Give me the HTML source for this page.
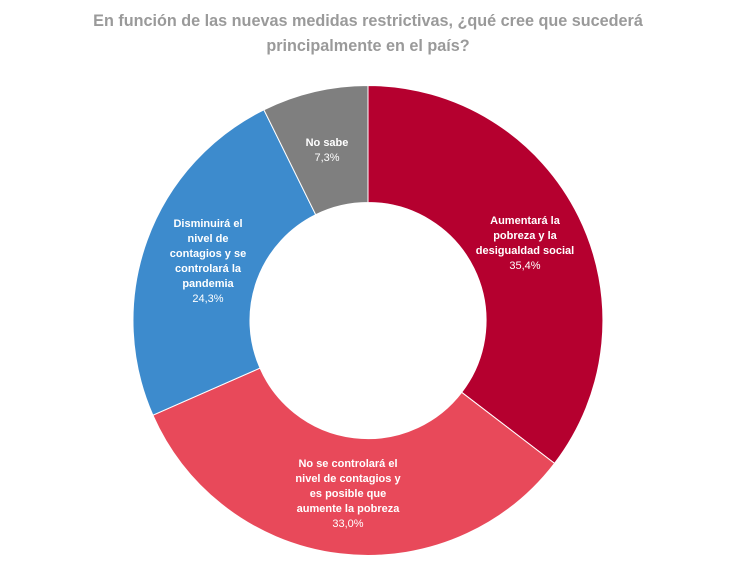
<!DOCTYPE html>
<html><head><meta charset="utf-8"><style>
body{margin:0;background:#fff;width:736px;height:562px;overflow:hidden}
svg{display:block}
text{font-family:"Liberation Sans",sans-serif}
.t{font-size:16.2px;font-weight:bold;fill:#9a9a9a}
.l{font-size:11px;font-weight:bold;fill:#fff}
.p{font-size:11px;fill:#fff}
</style></head><body>
<svg width="736" height="562" viewBox="0 0 736 562">
<text class="t" x="368" y="26" text-anchor="middle">En función de las nuevas medidas restrictivas, ¿qué cree que sucederá</text>
<text class="t" x="368" y="51" text-anchor="middle">principalmente en el país?</text>
<g stroke="#fff" stroke-width="1">
<path d="M368,85.5 A235,235 0 0 1 554.5,463.4 L461.7,392.3 A118,118 0 0 0 368,202.5Z" fill="#b5002f"/>
<path d="M554.5,463.4 A235,235 0 0 1 152.9,415.2 L260,368.1 A118,118 0 0 0 461.7,392.3Z" fill="#e8495a"/>
<path d="M152.9,415.2 A235,235 0 0 1 263.9,109.8 L315.7,214.7 A118,118 0 0 0 260,368.1Z" fill="#3d8bcd"/>
<path d="M263.9,109.8 A235,235 0 0 1 368,85.5 L368,202.5 A118,118 0 0 0 315.7,214.7Z" fill="#7f7f7f"/>
</g>
<g text-anchor="middle">
<text class="l" x="327" y="146">No sabe</text>
<text class="p" x="327" y="161">7,3%</text>
<text class="l" x="525" y="224">Aumentará la</text>
<text class="l" x="525" y="239">pobreza y la</text>
<text class="l" x="525" y="254">desigualdad social</text>
<text class="p" x="525" y="269">35,4%</text>
<text class="l" x="208" y="227">Disminuirá el</text>
<text class="l" x="208" y="242">nivel de</text>
<text class="l" x="208" y="257">contagios y se</text>
<text class="l" x="208" y="272">controlará la</text>
<text class="l" x="208" y="287">pandemia</text>
<text class="p" x="208" y="302">24,3%</text>
<text class="l" x="348" y="467">No se controlará el</text>
<text class="l" x="348" y="482">nivel de contagios y</text>
<text class="l" x="348" y="497">es posible que</text>
<text class="l" x="348" y="512">aumente la pobreza</text>
<text class="p" x="348" y="527">33,0%</text>
</g>
</svg>
</body></html>
